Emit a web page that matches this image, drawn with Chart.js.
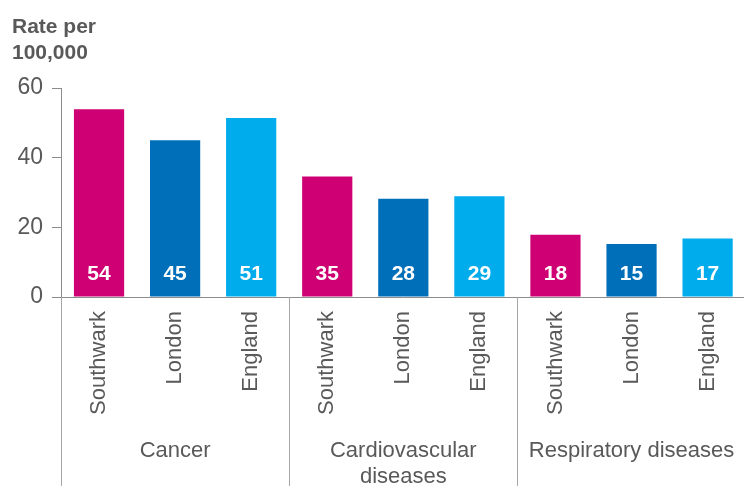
<!DOCTYPE html>
<html>
<head>
<meta charset="utf-8">
<script src="https://cdn.jsdelivr.net/npm/chart.js@4/dist/chart.umd.min.js"></script>
<style>
  html, body { margin: 0; padding: 0; background: #ffffff; overflow: hidden; }
  #wrap { width: 744px; height: 486px; position: relative; overflow: hidden; }
  #c { position: absolute; left: 0; top: 0; }
</style>
</head>
<body>
<div id="wrap"><canvas id="c" width="748" height="486"></canvas></div>
<script>
// ---- data ----
const areas = ['Southwark', 'London', 'England'];
const groups = [['Cancer'], ['Cardiovascular', 'diseases'], ['Respiratory diseases']];
const categories = ['Southwark', 'London', 'England', 'Southwark', 'London', 'England', 'Southwark', 'London', 'England'];
const rates = [53.9, 45.0, 51.4, 34.6, 28.2, 28.9, 17.9, 15.2, 16.8];
const yTicks = [0, 20, 40, 60];
const yTitle = ['Rate per', '100,000'];

const areaColors = { Southwark: '#CF0074', London: '#006FBA', England: '#00ACEC' };
const textGray = '#595959';
const lineGray = '#A6A6A6';
const FONT = '"Liberation Sans", Arial, sans-serif';

const extrasPlugin = {
  id: 'extras',
  afterDraw(chart) {
    const ctx = chart.ctx;
    const x = chart.scales.x;
    const area = chart.chartArea;
    const catW = x.getPixelForValue(1) - x.getPixelForValue(0);
    ctx.save();
    // y title
    ctx.fillStyle = textGray;
    ctx.font = 'bold 21px ' + FONT;
    ctx.textAlign = 'left';
    ctx.textBaseline = 'alphabetic';
    yTitle.forEach((t, i) => ctx.fillText(t, 12, 33 + i * 26));
    // value labels
    const meta = chart.getDatasetMeta(0);
    ctx.fillStyle = '#ffffff';
    ctx.font = 'bold 21px ' + FONT;
    ctx.textAlign = 'center';
    ctx.textBaseline = 'middle';
    meta.data.forEach((bar, i) => {
      ctx.fillText(String(Math.round(rates[i])), bar.x, bar.base - 22);
    });
    // group dividers and labels
    ctx.strokeStyle = lineGray;
    ctx.lineWidth = 1;
    ctx.fillStyle = textGray;
    ctx.font = '22px ' + FONT;
    ctx.textBaseline = 'middle';
    groups.forEach((g, gi) => {
      const start = gi * areas.length;
      const left = x.getPixelForValue(start) - catW / 2;
      const lx = Math.round(left) + 0.5;
      ctx.beginPath();
      ctx.moveTo(lx, area.bottom);
      ctx.lineTo(lx, chart.height);
      ctx.stroke();
      const cx = left + catW * areas.length / 2;
      g.forEach((line, li) => ctx.fillText(line, cx, 451 + li * 26));
    });
    ctx.restore();
  }
};

new Chart(document.getElementById('c'), {
  type: 'bar',
  data: {
    labels: categories,
    datasets: [{
      data: rates,
      backgroundColor: categories.map(c => areaColors[c]),
      borderWidth: 0,
      barPercentage: 0.66,
      categoryPercentage: 1.0
    }]
  },
  options: {
    responsive: false,
    animation: false,
    devicePixelRatio: 1,
    layout: { padding: { top: 88, right: 0, bottom: 0, left: 0 } },
    plugins: { legend: { display: false }, tooltip: { enabled: false }, title: { display: false } },
    scales: {
      x: {
        grid: { display: false, drawTicks: false },
        border: { display: true, color: '#8C8C8C', width: 1 },
        ticks: {
          color: textGray,
          font: { family: FONT, size: 22 },
          minRotation: 90,
          maxRotation: 90,
          autoSkip: false,
          padding: 14
        },
        afterFit(scale) { scale.height = 189; }
      },
      y: {
        min: 0,
        max: 60,
        afterBuildTicks(scale) { scale.ticks = yTicks.map(v => ({ value: v })); },
        grid: { display: true, drawOnChartArea: false, drawTicks: true, tickLength: 9, color: '#8C8C8C' },
        border: { display: true, color: '#8C8C8C', width: 1 },
        ticks: {
          color: textGray,
          font: { family: FONT, size: 23 },
          padding: 9
        },
        afterFit(scale) { scale.width = 61; }
      }
    }
  },
  plugins: [extrasPlugin]
});
</script>
</body>
</html>
